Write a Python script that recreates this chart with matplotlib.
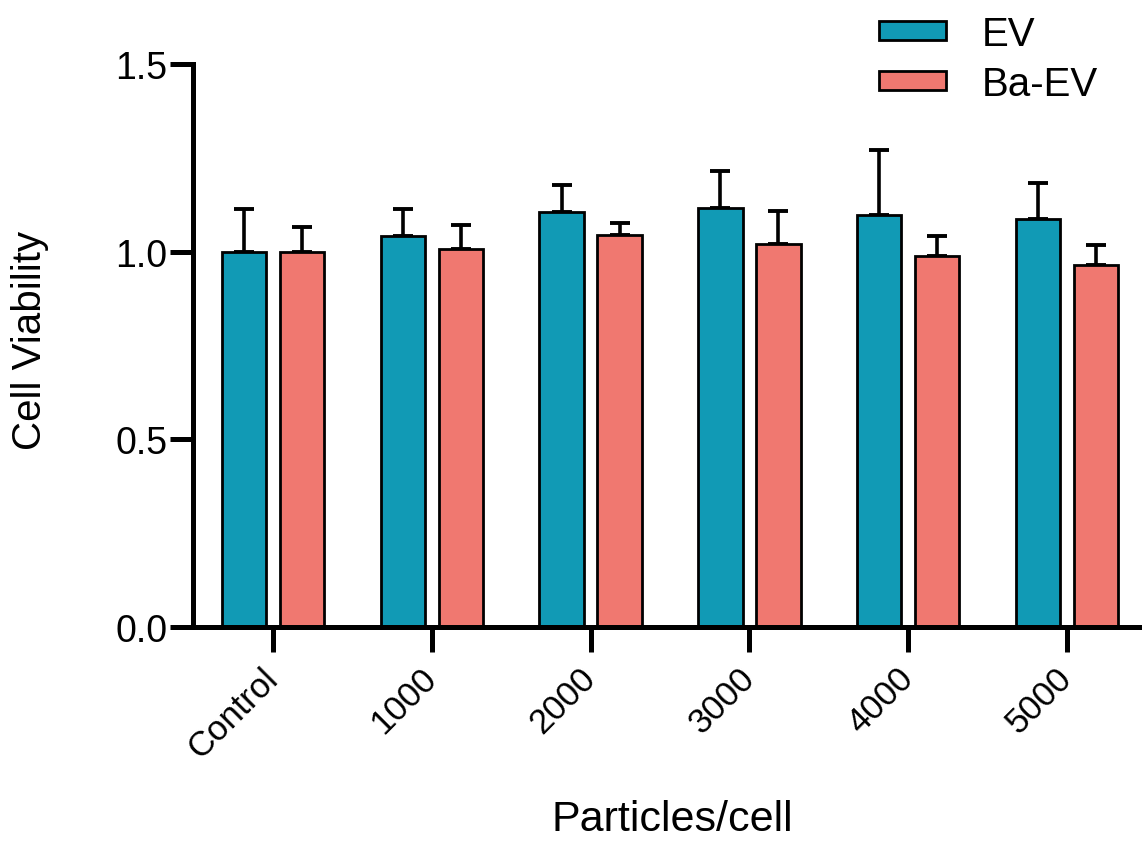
import matplotlib
matplotlib.use("Agg")
import matplotlib.pyplot as plt
import numpy as np

categories = ["Control", "1000", "2000", "3000", "4000", "5000"]
ev_values = [1.000, 1.041, 1.106, 1.116, 1.097, 1.086]
ev_errors = [0.115, 0.074, 0.072, 0.098, 0.173, 0.098]
baev_values = [1.000, 1.008, 1.044, 1.021, 0.988, 0.965]
baev_errors = [0.067, 0.062, 0.033, 0.087, 0.055, 0.053]
series_names = ["EV", "Ba-EV"]
yticks = [0.0, 0.5, 1.0, 1.5]

plt.rcParams['font.family'] = ['Liberation Sans', 'DejaVu Sans']

fig = plt.figure(figsize=(11.42, 8.45), dpi=100)
ax = fig.add_axes([193/1142, 217/845, (1142-193)/1142, (628-65)/845])

x = np.arange(len(categories))
w = 0.28
off = 0.183
ev_color = "#119ab5"
ba_color = "#f07870"

err_kw = dict(elinewidth=2.6, capsize=7.5, capthick=2.8, ecolor="black")
ax.bar(x - off, ev_values, w, color=ev_color, edgecolor="black", linewidth=2.0,
       label=series_names[0], zorder=2)
ax.bar(x + off, baev_values, w, color=ba_color, edgecolor="black", linewidth=2.0,
       label=series_names[1], zorder=2)
ax.errorbar(x - off, ev_values, yerr=[np.zeros(len(x)), ev_errors], fmt="none",
            zorder=1, **err_kw)
ax.errorbar(x + off, baev_values, yerr=[np.zeros(len(x)), baev_errors], fmt="none",
            zorder=1, **err_kw)

ax.set_xlim(-0.504, 5.473)
ax.set_ylim(0, 1.5)
ax.set_yticks(yticks)
ax.set_yticklabels([f"{v:.1f}" for v in yticks])
ax.set_xticks(x)
ax.set_xticklabels(categories, rotation=45, ha="right", va="center",
                   rotation_mode="anchor")

for s in ["top", "right"]:
    ax.spines[s].set_visible(False)
for s in ["left", "bottom"]:
    ax.spines[s].set_linewidth(3.6)
    ax.spines[s].set_zorder(3)

ax.tick_params(axis="y", length=16.5, width=3.6, labelsize=27, pad=2)
ax.tick_params(axis="x", length=18, width=3.6, labelsize=25, pad=15)

ax.set_ylabel("Cell Viability", fontsize=29, va="center", ha="center")
ax.yaxis.set_label_coords(-0.172, 0.511)
ax.set_xlabel("Particles/cell", fontsize=31, va="center", ha="center")
ax.xaxis.set_label_coords(0.505, -0.341)

leg = fig.legend(loc="upper left", bbox_to_anchor=(863/1142, 1.0), frameon=False,
                 fontsize=29, handlelength=1.65, handleheight=0.36,
                 handletextpad=0.9, labelspacing=0.3, borderaxespad=0.0)

fig.savefig("out.png", dpi=100)
